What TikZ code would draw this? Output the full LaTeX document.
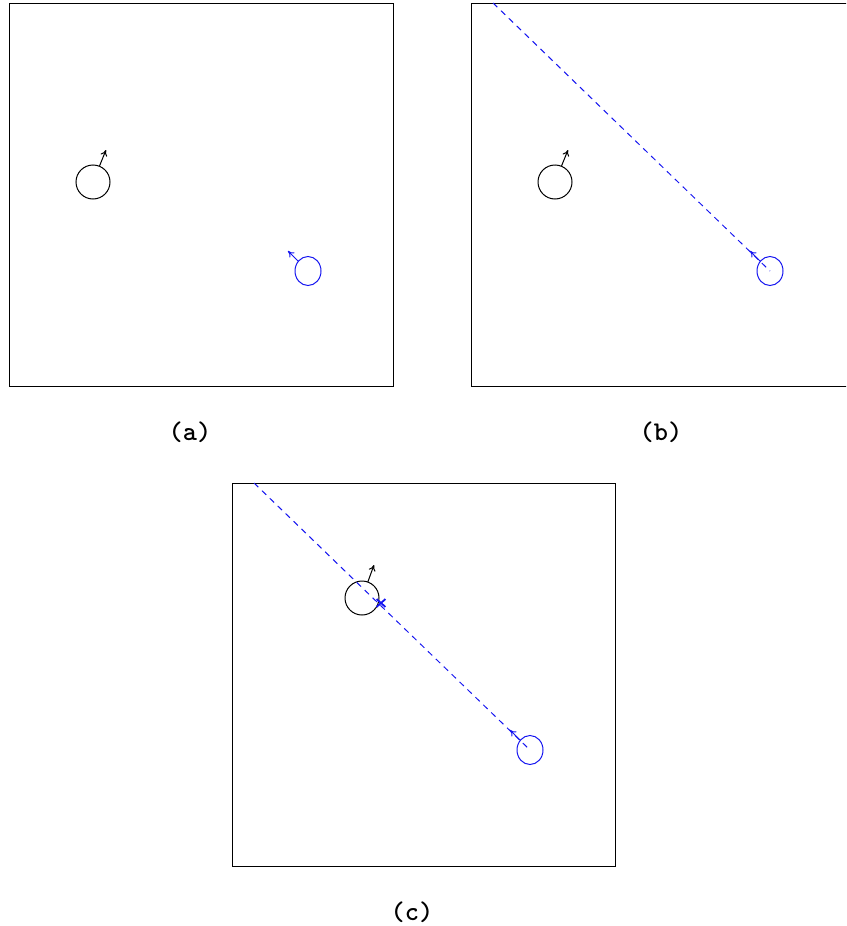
\documentclass[tikz,border=0pt]{standalone}
\usepackage{fontspec}
\usepackage{xcolor}
\definecolor{trackblue}{RGB}{20, 20, 240}
\usetikzlibrary{shapes.geometric, shapes.misc, arrows.meta, positioning}

\begin{document}
\begin{tikzpicture}[
    x=0.5pt, y=-0.5pt,
    panel/.style={draw=black, line width=0.5pt},
    body/.style={circle, draw=black, line width=0.5pt, minimum size=17pt, inner sep=0pt, outer sep=0pt},
    target/.style={ellipse, draw=trackblue, line width=0.5pt, minimum width=13pt, minimum height=14.5pt, inner sep=0pt, outer sep=0pt},
    heading/.style={-{To[length=3pt, width=3.5pt]}, line width=0.5pt},
    sightline/.style={draw=trackblue, line width=0.5pt, dash pattern=on 3pt off 2.5pt},
    hitmark/.style={cross out, draw=trackblue, line width=0.9pt, minimum width=3.5pt, minimum height=3pt, inner sep=0pt},
    caption/.style={font=\ttfamily\bfseries\fontsize{13.5}{15}\selectfont}
  ]
    \useasboundingbox (0,0) rectangle (846,926);
    \clip (0,0) rectangle (846,926);

    % frames
    \draw[panel] (9,3) rectangle (393,386);
    \draw[panel] (471,3) rectangle (855,386);
    \draw[panel] (232,483) rectangle (615,866);

    % (a)
    \node[body] (circA) at (93,182) {};
    \coordinate (tipA) at (106,150);
    \draw[heading] (circA) -- (tipA);
    \node[target] (ellA) at (308,271) {};
    \coordinate (tipEA) at (288,251);
    \draw[heading, trackblue] (ellA) -- (tipEA);
    \node[caption] (capA) at (190,432) {(a)};

    % (b)
    \node[body] (circB) at (555,182) {};
    \coordinate (tipB) at (568,150);
    \draw[heading] (circB) -- (tipB);
    \node[target] (ellB) at (770,271) {};
    \coordinate (tipEB) at (750,251);
    \draw[heading, trackblue] (ellB) -- (tipEB);
    \coordinate (startB) at (493,3);
    \draw[sightline] (startB) -- (ellB.center);
    \node[caption] (capB) at (661,432) {(b)};

    % (c)
    \node[body] (circC) at (362,598) {};
    \coordinate (tipC) at (374,565);
    \draw[heading] (circC) -- (tipC);
    \node[target] (ellC) at (530,750) {};
    \coordinate (tipEC) at (510,730);
    \draw[heading, trackblue] (ellC) -- (tipEC);
    \coordinate (startC) at (254,483);
    \draw[sightline] (startC) -- (ellC.center);
    \node[hitmark] (hitC) at (381,603) {};
    \node[caption] (capC) at (412,912) {(c)};
\end{tikzpicture}
\end{document}
